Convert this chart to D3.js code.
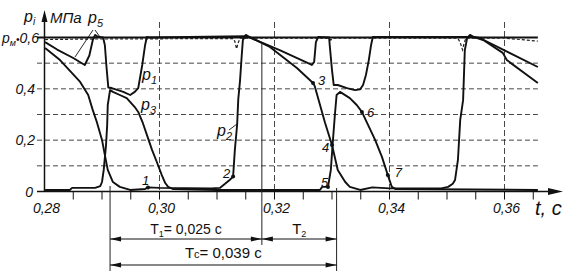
<!DOCTYPE html>
<html><head><meta charset="utf-8">
<script src="https://cdn.jsdelivr.net/npm/d3@7/dist/d3.min.js"></script>
<style>
html,body{margin:0;padding:0;background:#fff;}
svg{display:block;}
text{font-family:'Liberation Sans Narrow','Liberation Sans',Arial,sans-serif;fill:#111;}
</style></head>
<body><svg id="c" width="564" height="274"></svg>
<script>
// ---------- data (t in s, p in MPa) ----------
const majorTicks = [0.28, 0.30, 0.32, 0.34, 0.36];
const xTickLabels = ["0,28", "0,30", "0,32", "0,34", "0,36"];
const minorTicks = [0.285,0.29,0.295,0.30,0.305,0.31,0.315,0.32,0.325,0.33,0.335,0.34,0.345,0.35,0.355,0.36,0.365];
const yTickVals = [0, 0.2, 0.4];
const yTickLabels = ["0", "0,2", "0,4"];
const gridY = [0.1, 0.2, 0.3, 0.4, 0.5];
const pM = 0.6;
const tEnd = 0.3658;

const p1 = [[0.2801,0.582],[0.2822,0.553],[0.2850,0.520],[0.2870,0.493],[0.2878,0.530],[0.2884,0.590],[0.2888,0.610],[0.2893,0.603],[0.2902,0.600],
  [0.2905,0.570],[0.2908,0.480],[0.2911,0.405],[0.2917,0.403],[0.2937,0.388],[0.2949,0.376],[0.2957,0.388],[0.2963,0.403],[0.2970,0.493],
  [0.2975,0.571],[0.2978,0.602],[0.2983,0.600],[0.3150,0.605],[0.3157,0.600],[0.3209,0.551],[0.3265,0.493],[0.3269,0.505],[0.3272,0.582],
  [0.3276,0.602],[0.3295,0.600],[0.3296,0.571],[0.3300,0.473],[0.3303,0.415],[0.3310,0.415],[0.3326,0.403],[0.3340,0.395],[0.3349,0.398],
  [0.3354,0.415],[0.3359,0.454],[0.3364,0.512],[0.3368,0.571],[0.3371,0.602],[0.3545,0.602],[0.3557,0.598],[0.3658,0.485]];

const p2 = [[0.2801,0.559],[0.2827,0.512],[0.2862,0.427],[0.2876,0.376],[0.2884,0.317],[0.2891,0.271],[0.2900,0.201],[0.2905,0.142],
  [0.2910,0.084],[0.2919,0.037],[0.2931,0.018],[0.2949,0.006],[0.2975,0.010],[0.2980,0.016],[0.3000,0.014],[0.3090,0.012],[0.3105,0.014],
  [0.3114,0.030],[0.3122,0.045],[0.3128,0.058],[0.3131,0.160],[0.3135,0.260],[0.3137,0.360],[0.3140,0.430],[0.3143,0.530],[0.3145,0.590],
  [0.3150,0.610],[0.3157,0.602],[0.3192,0.563],[0.3239,0.481],[0.3267,0.423],[0.3270,0.410],[0.3288,0.267],[0.3300,0.181],[0.3310,0.084],
  [0.3323,0.037],[0.3331,0.018],[0.3349,0.006],[0.3370,0.016],[0.3400,0.012],[0.3490,0.012],[0.3502,0.018],[0.3510,0.030],[0.3514,0.045],
  [0.3519,0.123],[0.3523,0.279],[0.3528,0.356],[0.3531,0.551],[0.3535,0.598],[0.3540,0.610],[0.3547,0.602],[0.3563,0.590],[0.3597,0.540],
  [0.3604,0.512],[0.3658,0.423]];

const p3 = [[0.2801,0.006],[0.2844,0.006],[0.2848,0.014],[0.2888,0.014],[0.2897,0.021],[0.2900,0.037],[0.2903,0.084],[0.2907,0.181],
  [0.2909,0.259],[0.2910,0.337],[0.2914,0.395],[0.2919,0.388],[0.2931,0.376],[0.2943,0.364],[0.2957,0.329],[0.2963,0.310],[0.2971,0.267],
  [0.2980,0.208],[0.2987,0.162],[0.2996,0.111],[0.3004,0.064],[0.3010,0.033],[0.3015,0.018],[0.3023,0.010],[0.3100,0.006],[0.3279,0.006],
  [0.3283,0.018],[0.3293,0.018],[0.3298,0.084],[0.3301,0.181],[0.3305,0.298],[0.3308,0.376],[0.3314,0.388],[0.3331,0.364],[0.3343,0.337],
  [0.3352,0.310],[0.3361,0.267],[0.3375,0.201],[0.3387,0.134],[0.3397,0.064],[0.3404,0.018],[0.3410,0.010],[0.3658,0.006]];

const p5 = [[0.2801,0.592],[0.2880,0.594],[0.3128,0.596],[0.3131,0.585],[0.3134,0.556],[0.3137,0.580],[0.3140,0.597],[0.3295,0.597],
  [0.3298,0.590],[0.3301,0.597],[0.3519,0.597],[0.3523,0.580],[0.3527,0.552],[0.3530,0.580],[0.3533,0.597],[0.3597,0.598],[0.3658,0.586]];

const pointNames = ["1","2","3","4","5","6","7"];
const pointT = [0.2980, 0.3128, 0.3267, 0.3300, 0.3293, 0.3352, 0.3397];
const pointP = [0.016, 0.058, 0.423, 0.181, 0.018, 0.310, 0.064];

const tStart = 0.2914, t1End = 0.3178, tcEnd = 0.3308;
const T1Label = "= 0,025 c", TcLabel = "= 0,039 c";

// ---------- drawing ----------
const svg = d3.select("#c");
svg.append("rect").attr("width",564).attr("height",274).attr("fill","#fff");
const x = d3.scaleLinear().domain([0.28, 0.36]).range([44.5, 504.5]);
const y = d3.scaleLinear().domain([0, 0.6]).range([191.5, 37.5]);

// horizontal dashed grid
svg.append("g").selectAll("line").data(gridY).join("line")
  .attr("x1",37).attr("x2",x(tEnd)).attr("y1",d=>y(d)).attr("y2",d=>y(d))
  .attr("stroke","#333").attr("stroke-width",0.9).attr("stroke-dasharray","5,3");
// vertical dashed grid
svg.append("g").selectAll("line").data(majorTicks.slice(1)).join("line")
  .attr("x1",d=>x(d)).attr("x2",d=>x(d)).attr("y1",22).attr("y2",y(0))
  .attr("stroke","#333").attr("stroke-width",0.9).attr("stroke-dasharray","6,3");

// pM line
svg.append("line").attr("x1",37).attr("x2",x(tEnd)).attr("y1",y(pM)).attr("y2",y(pM))
  .attr("stroke","#111").attr("stroke-width",1.8);

// axes
svg.append("line").attr("x1",37).attr("x2",550).attr("y1",y(0)).attr("y2",y(0)).attr("stroke","#111").attr("stroke-width",1.5);
svg.append("path").attr("d",`M548,${y(0)-3.5}L563,${y(0)}L548,${y(0)+3.5}Z`).attr("fill","#111");
svg.append("line").attr("x1",x(0.28)).attr("x2",x(0.28)).attr("y1",y(0)).attr("y2",20).attr("stroke","#111").attr("stroke-width",1.5);
svg.append("path").attr("d",`M${x(0.28)-3},22L${x(0.28)},10L${x(0.28)+3},22Z`).attr("fill","#111");

// x ticks
svg.append("g").selectAll("line").data(minorTicks).join("line")
  .attr("x1",d=>x(d)).attr("x2",d=>x(d)).attr("y1",y(0)).attr("y2",y(0)+8)
  .attr("stroke","#111").attr("stroke-width",1);
svg.append("g").selectAll("text").data(majorTicks).join("text")
  .attr("x",d=>x(d)+2).attr("y",213).attr("text-anchor","middle")
  .attr("font-size",14).attr("font-style","italic").text((d,i)=>xTickLabels[i]);
// y labels
svg.append("g").selectAll("text").data(yTickVals).join("text")
  .attr("x",d=>d===0?33:35).attr("y",d=>y(d)+5).attr("text-anchor","end")
  .attr("font-size",14).attr("font-style","italic").text((d,i)=>yTickLabels[i]);
// pM label
const pmT = svg.append("text").attr("x",2).attr("y",y(pM)+5).attr("font-size",14).attr("font-style","italic");
pmT.append("tspan").text("p");
pmT.append("tspan").attr("font-size",9).attr("dy",3).text("м");
pmT.append("tspan").attr("dy",-3).attr("font-size",10).text("•");
pmT.append("tspan").text("0,6");

// Pi / MPa label
const piT = svg.append("text").attr("x",24).attr("y",22).attr("font-size",16).attr("font-style","italic");
piT.append("tspan").text("p");
piT.append("tspan").attr("font-size",10).attr("dy",3).text("i");
svg.append("text").attr("x",50).attr("y",23).attr("font-size",15).attr("font-style","italic").text("МПа");
// t, c
svg.append("text").attr("x",535).attr("y",215).attr("font-size",20).attr("font-style","italic").text("t, c");

// curves
const line = d3.line().x(d=>x(d[0])).y(d=>y(d[1]));
svg.append("path").datum(p5).attr("d",line).attr("fill","none").attr("stroke","#222").attr("stroke-width",1.2).attr("stroke-dasharray","3,2");
[p1,p2,p3].forEach(s=>{
  svg.append("path").datum(s).attr("d",line).attr("fill","none").attr("stroke","#111")
    .attr("stroke-width",1.9).attr("stroke-linejoin","round");
});

// extension lines
svg.append("line").attr("x1",x(tStart)).attr("x2",x(tStart)).attr("y1",186).attr("y2",271).attr("stroke","#222").attr("stroke-width",1);
svg.append("line").attr("x1",x(t1End)).attr("x2",x(t1End)).attr("y1",44).attr("y2",245).attr("stroke","#222").attr("stroke-width",1);
svg.append("line").attr("x1",x(tcEnd)).attr("x2",x(tcEnd)).attr("y1",188).attr("y2",271).attr("stroke","#222").attr("stroke-width",1);

// dimension arrows
function dim(t0,t1,yy){
  const a=x(t0), b=x(t1);
  svg.append("line").attr("x1",a).attr("x2",b).attr("y1",yy).attr("y2",yy).attr("stroke","#111").attr("stroke-width",1);
  svg.append("path").attr("d",`M${a},${yy}L${a+11},${yy-2.5}L${a+11},${yy+2.5}Z`).attr("fill","#111");
  svg.append("path").attr("d",`M${b},${yy}L${b-11},${yy-2.5}L${b-11},${yy+2.5}Z`).attr("fill","#111");
}
dim(tStart,t1End,239);
dim(t1End,tcEnd,239);
dim(tStart,tcEnd,265);
const t1t = svg.append("text").attr("x",(x(tStart)+x(t1End))/2).attr("y",234).attr("text-anchor","middle").attr("font-size",14);
t1t.append("tspan").text("T");
t1t.append("tspan").attr("font-size",9).attr("dy",3).text("1");
t1t.append("tspan").attr("dy",-3).text(T1Label);
const t2t = svg.append("text").attr("x",(x(t1End)+x(tcEnd))/2).attr("y",234).attr("text-anchor","middle").attr("font-size",15);
t2t.append("tspan").text("T");
t2t.append("tspan").attr("font-size",9).attr("dy",3).text("2");
const tct = svg.append("text").attr("x",(x(tStart)+x(tcEnd))/2).attr("y",258).attr("text-anchor","middle").attr("font-size",15);
tct.append("tspan").text("T");
tct.append("tspan").attr("font-size",11).text("c");
tct.append("tspan").text(TcLabel);

// points
svg.append("g").selectAll("circle").data(pointT).join("circle")
  .attr("cx",d=>x(d)).attr("cy",(d,i)=>y(pointP[i])).attr("r",2).attr("fill","#111");
const pOff = [[-6,-2],[-10,1],[5,2],[-10,7],[-7,0],[5,5],[7,2]];
svg.append("g").selectAll("text").data(pointT).join("text")
  .attr("x",(d,i)=>x(d)+pOff[i][0]).attr("y",(d,i)=>y(pointP[i])+pOff[i][1])
  .attr("font-size",13).attr("font-style","italic").text((d,i)=>pointNames[i]);

// curve labels
function plab(px,py,sub){
  const t=svg.append("text").attr("x",px).attr("y",py).attr("font-size",16).attr("font-style","italic");
  t.append("tspan").text("p");
  t.append("tspan").attr("font-size",11).attr("dy",4).text(sub);
}
plab(142,80,"1");
plab(141,110,"3");
plab(217,136,"2");
plab(88,23,"5");
// leaders
svg.append("line").attr("x1",229).attr("y1",130).attr("x2",237).attr("y2",124).attr("stroke","#111").attr("stroke-width",0.9);
svg.append("line").attr("x1",93).attr("y1",30).attr("x2",75).attr("y2",57).attr("stroke","#111").attr("stroke-width",0.9);
svg.append("line").attr("x1",95).attr("y1",30).attr("x2",100).attr("y2",37).attr("stroke","#111").attr("stroke-width",0.9);
</script></body></html>
